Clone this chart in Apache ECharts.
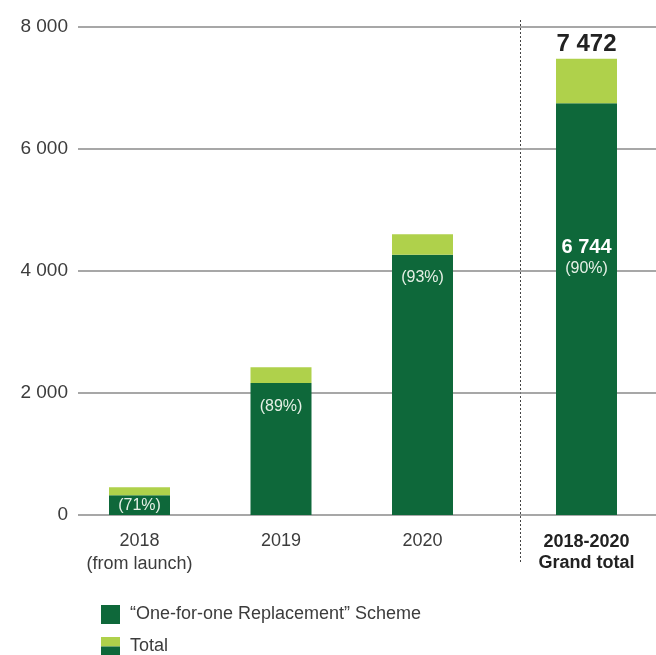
<!DOCTYPE html>
<html>
<head>
<meta charset="utf-8">
<script src="https://cdn.jsdelivr.net/npm/echarts@6/dist/echarts.min.js"></script>
<style>html,body{margin:0;padding:0;background:#fff}#c{width:656px;height:655px}</style>
</head>
<body>
<div id="c"></div>
<script>
// ---- data ----
const categories = ['2018\n(from launch)', '2019', '2020'];
const schemeValues = [323, 2160, 4261];
const totalValues = [455, 2420, 4597];
const grandCategory = ['2018-2020\nGrand total'];
const grandScheme = [6744];
const grandTotal = [7472];
const yTicks = [0, 2000, 4000, 6000, 8000];
const schemeName = '\u201cOne-for-one Replacement\u201d Scheme';
const totalName = 'Total';

// ---- styles ----
const DARK = '#0e683a', LIGHT = '#afd14b';
const FONT = '"Liberation Sans", Arial, sans-serif';
const TXT = '#3c3c3c';
const fmt = v => String(v).replace(/\B(?=(\d{3})+(?!\d))/g, ' ');
const pct = (s, t) => '(' + Math.round(s / t * 100) + '%)';
const TOP = 26.5, BOTTOM = 140;
const yMax = yTicks[yTicks.length - 1];

const remainder = totalValues.map((t, i) => t - schemeValues[i]);
const grandRemainder = grandTotal.map((t, i) => t - grandScheme[i]);

const totalIcon = 'image://data:image/svg+xml;charset=utf-8,' + encodeURIComponent(
  "<svg xmlns='http://www.w3.org/2000/svg' width='19' height='19'>" +
  "<rect x='0' y='0' width='19' height='9.5' fill='" + LIGHT + "'/>" +
  "<rect x='0' y='9.5' width='19' height='9.5' fill='" + DARK + "'/></svg>");

const hiddenY = i => ({ type: 'value', gridIndex: i, min: 0, max: yMax, interval: 2000, show: false });
const xCat = (i, data, bold) => ({
  type: 'category', gridIndex: i, data: data,
  axisLine: { show: false }, axisTick: { show: false },
  axisLabel: {
    margin: bold ? 17 : 15, color: bold ? '#222' : TXT, fontFamily: FONT,
    fontSize: 18, fontWeight: bold ? 'bold' : 'normal', lineHeight: bold ? 21 : 23
  }
});
const legendBox = (top, item) => ({
  orient: 'vertical', left: 96, top: top, itemWidth: 19, itemHeight: 19,
  selectedMode: false, height: 40,
  textStyle: { color: TXT, fontSize: 18, fontFamily: FONT, padding: [0, 0, 0, 5] },
  data: [item]
});

const chart = echarts.init(document.getElementById('c'), null, { renderer: 'canvas' });
chart.setOption({
  animation: false,
  textStyle: { fontFamily: FONT },
  grid: [
    { left: 78, right: 0, top: TOP, bottom: BOTTOM },
    { left: 68.75, width: 424.5, top: TOP, bottom: BOTTOM },
    { left: 520, width: 133, top: TOP, bottom: BOTTOM }
  ],
  xAxis: [
    { type: 'category', gridIndex: 0, data: [''], show: false },
    xCat(1, categories, false),
    xCat(2, grandCategory, true)
  ],
  yAxis: [
    {
      type: 'value', gridIndex: 0, min: 0, max: yMax, interval: 2000,
      axisLine: { show: false }, axisTick: { show: false },
      axisLabel: { margin: 10, color: TXT, fontSize: 19, fontFamily: FONT, formatter: fmt },
      splitLine: { lineStyle: { color: '#8a8a8a', width: 1.5 } }
    },
    hiddenY(1), hiddenY(2)
  ],
  legend: [
    legendBox(600, { name: schemeName, icon: 'rect' }),
    legendBox(632, { name: totalName, icon: totalIcon })
  ],
  graphic: [{
    type: 'line', shape: { x1: 520.5, y1: 20, x2: 520.5, y2: 562 },
    style: { stroke: '#444', lineWidth: 1, lineDash: [2, 2] }, silent: true
  }],
  series: [
    {
      name: schemeName, type: 'bar', stack: 'a', xAxisIndex: 1, yAxisIndex: 1, barWidth: 61,
      itemStyle: { color: DARK },
      data: schemeValues.map((v, i) => ({
        value: v,
        label: {
          show: true, position: i === 0 ? 'inside' : 'insideTop', distance: 15,
          color: '#e6f0e6', fontSize: 16, fontFamily: FONT,
          formatter: () => pct(v, totalValues[i])
        }
      }))
    },
    {
      name: totalName, type: 'bar', stack: 'a', xAxisIndex: 1, yAxisIndex: 1, barWidth: 61,
      itemStyle: { color: LIGHT }, data: remainder
    },
    {
      name: schemeName, type: 'bar', stack: 'b', xAxisIndex: 2, yAxisIndex: 2, barWidth: 61,
      itemStyle: { color: DARK },
      data: grandScheme.map((v, i) => ({
        value: v,
        label: {
          show: true, position: 'insideTop', distance: 134,
          formatter: () => '{b|' + fmt(v) + '}\n{n|' + pct(v, grandTotal[i]) + '}',
          rich: {
            b: { color: '#fff', fontSize: 20, fontWeight: 'bold', fontFamily: FONT, lineHeight: 21 },
            n: { color: '#e6f0e6', fontSize: 16, fontFamily: FONT, lineHeight: 20 }
          }
        }
      }))
    },
    {
      name: totalName, type: 'bar', stack: 'b', xAxisIndex: 2, yAxisIndex: 2, barWidth: 61,
      itemStyle: { color: LIGHT },
      data: grandRemainder.map((v, i) => ({
        value: v,
        label: {
          show: true, position: 'top', distance: 2, color: '#222', fontSize: 24,
          fontWeight: 'bold', fontFamily: FONT, formatter: () => fmt(grandTotal[i])
        }
      }))
    }
  ]
});
</script>
</body>
</html>
